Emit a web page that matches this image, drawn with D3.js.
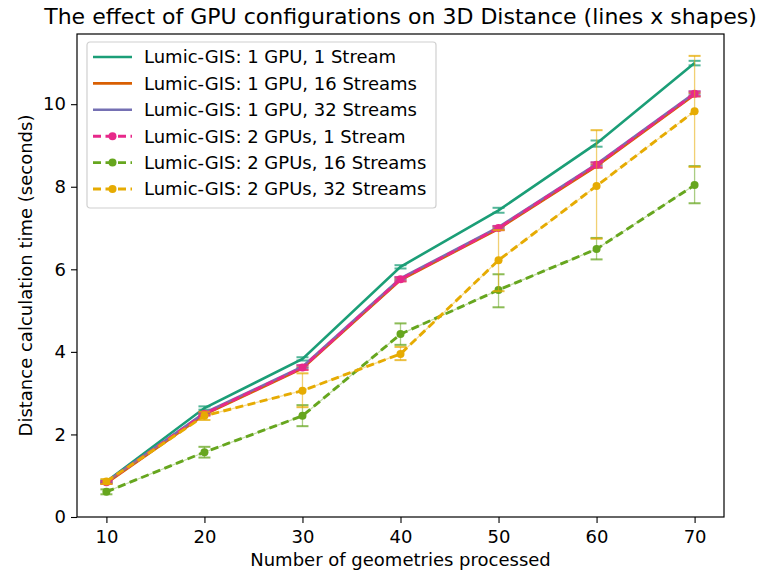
<!DOCTYPE html>
<html lang="en">
<head>
<meta charset="utf-8">
<title>GPU configurations</title>
<script src="https://cdn.jsdelivr.net/npm/d3@7"></script>
<style>
  body { margin: 0; background: #fff; }
  svg text { font-family: "DejaVu Sans", sans-serif; fill: #000; }
</style>
</head>
<body>
<div id="chart"></div>
<script>
// geometries processed
var xValues = [10, 20, 30, 40, 50, 60, 70]

var seriesNames = [
  "Lumic-GIS: 1 GPU, 1 Stream",
  "Lumic-GIS: 1 GPU, 16 Streams",
  "Lumic-GIS: 1 GPU, 32 Streams",
  "Lumic-GIS: 2 GPUs, 1 Stream",
  "Lumic-GIS: 2 GPUs, 16 Streams",
  "Lumic-GIS: 2 GPUs, 32 Streams"
]
var colors = ["#1b9e77", "#d95f02", "#7570b3", "#e7298a", "#66a61e", "#e6ab02"]
var dashed = [false, false, false, true, true, true]

// mean times (seconds)
var gpu1stream1   = [0.86, 2.64, 3.83, 6.06, 7.43, 9.05, 11.00]
var gpu1stream16  = [0.82, 2.48, 3.60, 5.74, 6.98, 8.50, 10.23]
var gpu1stream32  = [0.85, 2.52, 3.64, 5.78, 7.02, 8.55, 10.27]
var gpu2stream1   = [0.84, 2.50, 3.62, 5.76, 7.00, 8.53, 10.25]
var gpu2stream16  = [0.61, 1.57, 2.45, 4.43, 5.50, 6.49, 8.04]
var gpu2stream32  = [0.86, 2.45, 3.06, 3.95, 6.22, 8.02, 9.83]

// error bar low / high
var lo1_1  = [0.83, 2.60, 3.79, 6.02, 7.37, 8.97, 10.94]
var hi1_1  = [0.89, 2.68, 3.87, 6.10, 7.49, 9.12, 11.05]
var lo1_16 = [0.80, 2.46, 3.57, 5.71, 6.95, 8.46, 10.19]
var hi1_16 = [0.84, 2.50, 3.63, 5.77, 7.01, 8.54, 10.27]
var lo1_32 = [0.83, 2.50, 3.61, 5.75, 6.99, 8.51, 10.23]
var hi1_32 = [0.87, 2.54, 3.67, 5.81, 7.05, 8.59, 10.31]
var lo2_1  = [0.81, 2.46, 3.56, 5.71, 6.95, 8.47, 10.19]
var hi2_1  = [0.87, 2.54, 3.68, 5.81, 7.05, 8.59, 10.31]
var lo2_16 = [0.55, 1.44, 2.20, 4.17, 5.08, 6.24, 7.60]
var hi2_16 = [0.67, 1.70, 2.71, 4.69, 5.88, 6.76, 8.50]
var lo2_32 = [0.80, 2.35, 2.66, 3.80, 5.47, 6.74, 8.48]
var hi2_32 = [0.92, 2.55, 3.48, 4.12, 6.95, 9.37, 11.17]

var yTicks = [0, 2, 4, 6, 8, 10]
var xTicks = [10, 20, 30, 40, 50, 60, 70]

var means = [gpu1stream1, gpu1stream16, gpu1stream32, gpu2stream1, gpu2stream16, gpu2stream32]
var lows = [lo1_1, lo1_16, lo1_32, lo2_1, lo2_16, lo2_32]
var highs = [hi1_1, hi1_16, hi1_32, hi2_1, hi2_16, hi2_32]

var W = 759, H = 571
// plot box (window.top is reserved, so use other names)
var pl = 77, pr = 724, pt = 34, pb = 517

var svg = d3.select("#chart").append("svg")
  .attr("width", W).attr("height", H)

var xScale = d3.scaleLinear().domain([7, 73]).range([pl, pr])
var yScale = d3.scaleLinear().domain([0, 11.7]).range([pb, pt])

// title
svg.append("text")
  .attr("x", (pl + pr) / 2).attr("y", 24)
  .attr("text-anchor", "middle")
  .style("font-size", "22px")
  .text("The effect of GPU configurations on 3D Distance (lines x shapes)")

// axes
var xAxis = d3.axisBottom(xScale).tickValues(xTicks).tickSize(6).tickPadding(5)
var yAxis = d3.axisLeft(yScale).tickValues(yTicks).tickSize(6).tickPadding(5)

var gx = svg.append("g").attr("transform", "translate(0," + pb + ")").call(xAxis)
var gy = svg.append("g").attr("transform", "translate(" + pl + ",0)").call(yAxis)
;[gx, gy].forEach(function(g){
  g.select(".domain").remove()
  g.selectAll("text").style("font-size", "18px").style("font-family", "DejaVu Sans")
  g.selectAll("line").attr("stroke", "#000").attr("stroke-width", 1.1)
})
gx.selectAll("text").attr("dy", "0.85em")

svg.append("text")
  .attr("x", (pl + pr) / 2).attr("y", 566)
  .attr("text-anchor", "middle")
  .style("font-size", "18px")
  .text("Number of geometries processed")

svg.append("text")
  .attr("transform", "translate(32," + ((pt + pb) / 2) + ") rotate(-90)")
  .attr("text-anchor", "middle")
  .style("font-size", "18px")
  .text("Distance calculation time (seconds)")

// series
var line = d3.line()
  .x(function(d){ return xScale(d[0]) })
  .y(function(d){ return yScale(d[1]) })

var plot = svg.append("g")

for (var s = 0; s < means.length; s++) {
  var pts = xValues.map(function(x, i){ return [x, means[s][i]] })
  var color = colors[s]

  if (dashed[s]) {
    // thin faint line that shows through the dash gaps
    plot.append("path")
      .datum(pts)
      .attr("d", line)
      .attr("fill", "none")
      .attr("stroke", color)
      .attr("stroke-width", 1.2)
      .attr("opacity", 0.4)
  }

  plot.append("path")
    .datum(pts)
    .attr("d", line)
    .attr("fill", "none")
    .attr("stroke", color)
    .attr("stroke-width", dashed[s] ? 2.9 : 2.6)
    .attr("stroke-dasharray", dashed[s] ? "8,4.5" : null)

  // error bars
  var eb = plot.append("g")
  for (var i = 0; i < xValues.length; i++) {
    var cx = xScale(xValues[i])
    var y1 = yScale(lows[s][i]), y2 = yScale(highs[s][i])
    eb.append("line")
      .attr("x1", cx).attr("x2", cx).attr("y1", y1).attr("y2", y2)
      .attr("stroke", color).attr("stroke-width", 1.3).attr("opacity", 0.55)
    ;[y1, y2].forEach(function(yy){
      eb.append("line")
        .attr("x1", cx - 6).attr("x2", cx + 6).attr("y1", yy).attr("y2", yy)
        .attr("stroke", color).attr("stroke-width", 2).attr("opacity", 0.75)
    })
  }

  if (dashed[s]) {
    plot.selectAll(".dot" + s)
      .data(pts).enter().append("circle")
      .attr("cx", function(d){ return xScale(d[0]) })
      .attr("cy", function(d){ return yScale(d[1]) })
      .attr("r", 4)
      .attr("fill", color)
  }
}

// frame
svg.append("rect")
  .attr("x", pl).attr("y", pt)
  .attr("width", pr - pl).attr("height", pb - pt)
  .attr("fill", "none").attr("stroke", "#000").attr("stroke-width", 1.2)

// legend
var legend = svg.append("g").attr("transform", "translate(87,42)")
legend.append("rect")
  .attr("width", 349).attr("height", 166).attr("rx", 3)
  .attr("fill", "#fff").attr("fill-opacity", 0.8)
  .attr("stroke", "#d0d0d0").attr("stroke-width", 1.2)

seriesNames.forEach(function(name, k){
  var ly = 15 + k * 26.4
  var row = legend.append("g").attr("transform", "translate(0," + ly + ")")
  row.append("line")
    .attr("x1", 6).attr("x2", 45).attr("y1", 0).attr("y2", 0)
    .attr("stroke", colors[k]).attr("stroke-width", dashed[k] ? 2.9 : 2.6)
    .attr("stroke-dasharray", dashed[k] ? "8,4.5" : null)
  if (dashed[k]) {
    row.append("circle").attr("cx", 25.5).attr("cy", 0).attr("r", 4).attr("fill", colors[k])
  }
  row.append("text")
    .attr("x", 57).attr("y", 0).attr("dy", "0.35em")
    .style("font-size", "18px")
    .text(name)
})
</script>
</body>
</html>
